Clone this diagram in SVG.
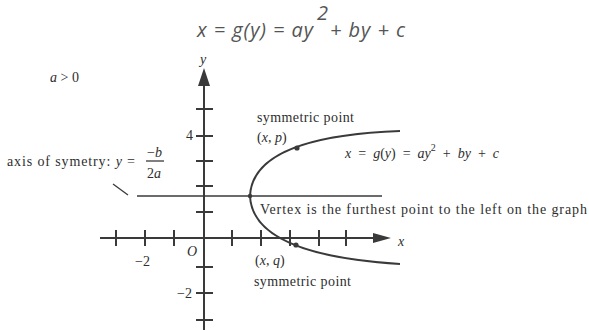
<svg xmlns="http://www.w3.org/2000/svg" width="589" height="330" viewBox="0 0 589 330">
<style>
.ax{stroke:#3a3a3a;stroke-width:2;fill:none}
.tk{stroke:#3a3a3a;stroke-width:2}
.thin{stroke:#3a3a3a;stroke-width:1.3;fill:none}
.t{font-family:"Liberation Serif",serif;font-size:14px;fill:#2e2e2e}
.i{font-style:italic}
.title{font-family:"Open Sans","Noto Sans",sans-serif;font-style:italic;fill:#555;font-size:20px}
</style>
<rect width="589" height="330" fill="#fff"/>
<g id="title">
<text class="title" x="197" y="37" textLength="116" lengthAdjust="spacing">x = g(y) = ay</text>
<text class="title" x="317" y="20" font-size="12">2</text>
<text class="title" x="330" y="37" textLength="75" lengthAdjust="spacing">+ by + c</text>
</g>
<g id="condition"><text class="t" x="50" y="82" font-size="13"><tspan class="i">a</tspan> &gt; 0</text></g>
<g id="axes">
<line class="ax" x1="204" y1="330" x2="204" y2="84"/>
<polygon points="198,86 204,68 210,86" fill="#3a3a3a"/>
<line class="ax" x1="100" y1="238" x2="375" y2="238" stroke-width="1.6"/>
<polygon points="373,233 391,238 373,243" fill="#3a3a3a"/>
<g class="tk">
<line x1="196" y1="109" x2="213" y2="109"/>
<line x1="196" y1="136" x2="213" y2="136"/>
<line x1="196" y1="161" x2="213" y2="161"/>
<line x1="196" y1="186" x2="213" y2="186"/>
<line x1="196" y1="212" x2="213" y2="212"/>
<line x1="196" y1="267" x2="213" y2="267"/>
<line x1="196" y1="293" x2="213" y2="293"/>
<line x1="196" y1="320" x2="213" y2="320"/>
<line x1="116" y1="230" x2="116" y2="246"/>
<line x1="145" y1="230" x2="145" y2="246"/>
<line x1="174" y1="230" x2="174" y2="246"/>
<line x1="232" y1="230" x2="232" y2="246"/>
<line x1="261" y1="230" x2="261" y2="246"/>
<line x1="290" y1="230" x2="290" y2="246"/>
<line x1="319" y1="230" x2="319" y2="246"/>
<line x1="346" y1="230" x2="346" y2="246"/>
</g>
<text class="t i" x="200" y="64">y</text>
<text class="t i" x="398" y="246">x</text>
<text class="t i" x="187" y="256">O</text>
<text class="t" x="135" y="266">−2</text>
<text class="t" x="186" y="140">4</text>
<text class="t" x="177" y="298">−2</text>
</g>
<g id="axis-of-symmetry">
<line class="thin" x1="137" y1="196" x2="382" y2="196"/>
<line class="thin" x1="113" y1="184" x2="128" y2="195"/>
<text class="t" x="7" y="166" textLength="128" lengthAdjust="spacing" font-size="15">axis of symetry: <tspan class="i">y</tspan> =</text>
<text class="t" x="147" y="157" font-size="15">−<tspan class="i">b</tspan></text>
<line class="thin" x1="146" y1="161" x2="164" y2="161" stroke-width="1"/>
<text class="t" x="147" y="178" font-size="15">2<tspan class="i">a</tspan></text>
</g>
<g id="parabola">
<path d="M400,131 C320,134 252,150 250,196 C252,242 320,259 400,264" stroke="#3a3a3a" stroke-width="2" fill="none"/>
<circle cx="297" cy="148" r="2.6" fill="#3a3a3a"/>
<circle cx="296" cy="245" r="2.6" fill="#3a3a3a"/>
<circle cx="250" cy="196" r="2.2" fill="#3a3a3a"/>
<text class="t" x="345" y="158" font-size="15.5" word-spacing="3.5"><tspan class="i">x</tspan> = <tspan class="i">g</tspan>(<tspan class="i">y</tspan>) = <tspan class="i">ay</tspan><tspan font-size="10" dy="-7">2</tspan><tspan dy="7"> + </tspan><tspan class="i">by</tspan> + <tspan class="i">c</tspan></text>
</g>
<g id="point-p">
<text class="t" x="257" y="122" font-size="15" textLength="97" lengthAdjust="spacing">symmetric point</text>
<text class="t" x="257" y="142" font-size="15">(<tspan class="i">x</tspan>, <tspan class="i">p</tspan>)</text>
</g>
<g id="point-q">
<text class="t" x="255" y="265" font-size="15">(<tspan class="i">x</tspan>, <tspan class="i">q</tspan>)</text>
<text class="t" x="254" y="286" font-size="15" textLength="97" lengthAdjust="spacing">symmetric point</text>
</g>
<g id="vertex-note"><text class="t" x="260" y="214" font-size="15.5" textLength="327" lengthAdjust="spacing">Vertex is the furthest point to the left on the graph</text></g>
</svg>
